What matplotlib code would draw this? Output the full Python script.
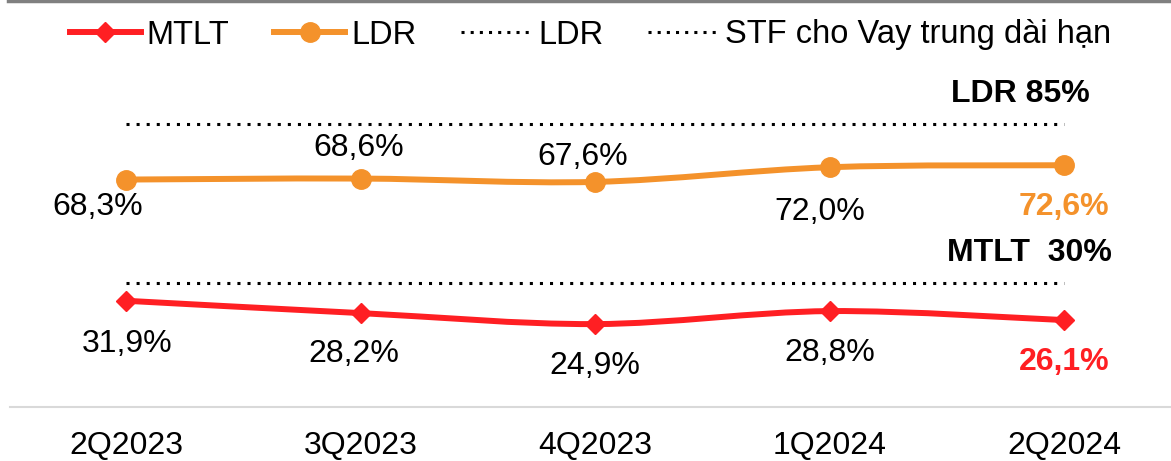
import numpy as np
import matplotlib.pyplot as plt
from matplotlib.path import Path
from matplotlib.patches import PathPatch
from matplotlib.lines import Line2D

plt.rcParams['font.family'] = ['Liberation Sans', 'DejaVu Sans']

# data
quarters = ["2Q2023", "3Q2023", "4Q2023", "1Q2024", "2Q2024"]
ldr = [68.3, 68.6, 67.6, 72.0, 72.6]
mtlt = [31.9, 28.2, 24.9, 28.8, 26.1]
ldr_limit = 85
mtlt_limit = 30

ORANGE = "#F4922B"
RED = "#FF1F23"
FS = 23


def smooth_path(xs, ys):
    # excel-like smoothed line: cubic bezier segments through the points
    p = np.column_stack([xs, ys]).astype(float)
    ext = np.vstack([p[0], p, p[-1]])
    verts = [p[0]]
    codes = [Path.MOVETO]
    for i in range(len(p) - 1):
        p0, p1, p2, p3 = ext[i], ext[i + 1], ext[i + 2], ext[i + 3]
        c1 = p1 + (p2 - p0) / 6
        c2 = p2 - (p3 - p1) / 6
        verts += [c1, c2, p2]
        codes += [Path.CURVE4] * 3
    return Path(verts, codes)


def fmt(v):
    return f"{v:.1f}%".replace(".", ",")


fig = plt.figure(figsize=(11.71, 4.61), dpi=100)
ax = fig.add_axes([10 / 1171, 1 - 407 / 461, 1 - 10 / 1171, 333 / 461])
x = np.arange(len(quarters))

for vals, color, marker, ms in [(ldr, ORANGE, 'o', 14), (mtlt, RED, 'D', 10.5)]:
    ax.add_patch(PathPatch(smooth_path(x, vals), fill=False, edgecolor=color,
                           lw=4.3, capstyle='round', zorder=3))
    ax.plot(x, vals, linestyle='none', marker=marker, ms=ms, color=color, zorder=4)

ax.set_xlim(-0.495, 4.456)
ax.set_ylim(0, 100)
ax.set_xticks(x)
ax.set_xticklabels(quarters, fontsize=FS)
ax.tick_params(axis='x', length=0, pad=17)
ax.set_yticks([])
for s in ['top', 'left', 'right']:
    ax.spines[s].set_visible(False)
ax.spines['bottom'].set_color('#D9D9D9')
ax.spines['bottom'].set_linewidth(1.5)

# data labels (pixel offsets)
ldr_off = [(-28, -27), (-2, 31), (-12, 25), (-10, -45), (0, -42)]
mtlt_off = [(1, -43), (-7, -41), (0, -42), (0, -42), (0, -42)]
for i, v in enumerate(ldr):
    last = i == len(ldr) - 1
    ax.annotate(fmt(v), (x[i], v), xytext=ldr_off[i], textcoords='offset pixels',
                ha='center', va='center', fontsize=FS,
                color=ORANGE if last else 'black', fontweight='bold' if last else 'normal')
for i, v in enumerate(mtlt):
    last = i == len(mtlt) - 1
    ax.annotate(fmt(v), (x[i], v), xytext=mtlt_off[i], textcoords='offset pixels',
                ha='center', va='center', fontsize=FS,
                color=RED if last else 'black', fontweight='bold' if last else 'normal')

# reference lines on a secondary scale
ax2 = ax.twinx()
ax2.set_ylim(-13.2, 102.4)
ax2.set_yticks([])
for s in ['top', 'left', 'right', 'bottom']:
    ax2.spines[s].set_visible(False)
dot = dict(color='black', lw=2.2, dashes=(1, 2.3))
ax2.plot(x, [ldr_limit] * len(x), **dot)
ax2.plot(x, [mtlt_limit] * len(x), **dot)
ax2.annotate(f"LDR {ldr_limit}%", (x[-1], ldr_limit), xytext=(26, 30),
             textcoords='offset pixels', ha='right', va='center',
             fontsize=FS, fontweight='bold')
ax2.annotate(f"MTLT  {mtlt_limit}%", (x[-1], mtlt_limit), xytext=(48, 30),
             textcoords='offset pixels', ha='right', va='center',
             fontsize=FS, fontweight='bold')

# top border line
fig.add_artist(Line2D([8 / 1171, 1], [0.998, 0.998], color='#808080', lw=2.5))

handles = [
    Line2D([], [], color=RED, lw=4.3, marker='D', ms=10.5),
    Line2D([], [], color=ORANGE, lw=4.3, marker='o', ms=14),
    Line2D([], [], color='black', lw=2.2, dashes=(1, 2.0)),
    Line2D([], [], color='black', lw=2.2, dashes=(1, 2.0)),
]
labels = ["MTLT", "LDR", "LDR", "STF cho Vay trung dài hạn"]
fig.legend(handles, labels, loc='center', bbox_to_anchor=(0.5043, 1 - 35 / 461),
           ncol=4, frameon=False, fontsize=23.5, handlelength=2.18,
           handletextpad=0.18, columnspacing=1.37, borderpad=0)

fig.savefig("out.png", dpi=100)
